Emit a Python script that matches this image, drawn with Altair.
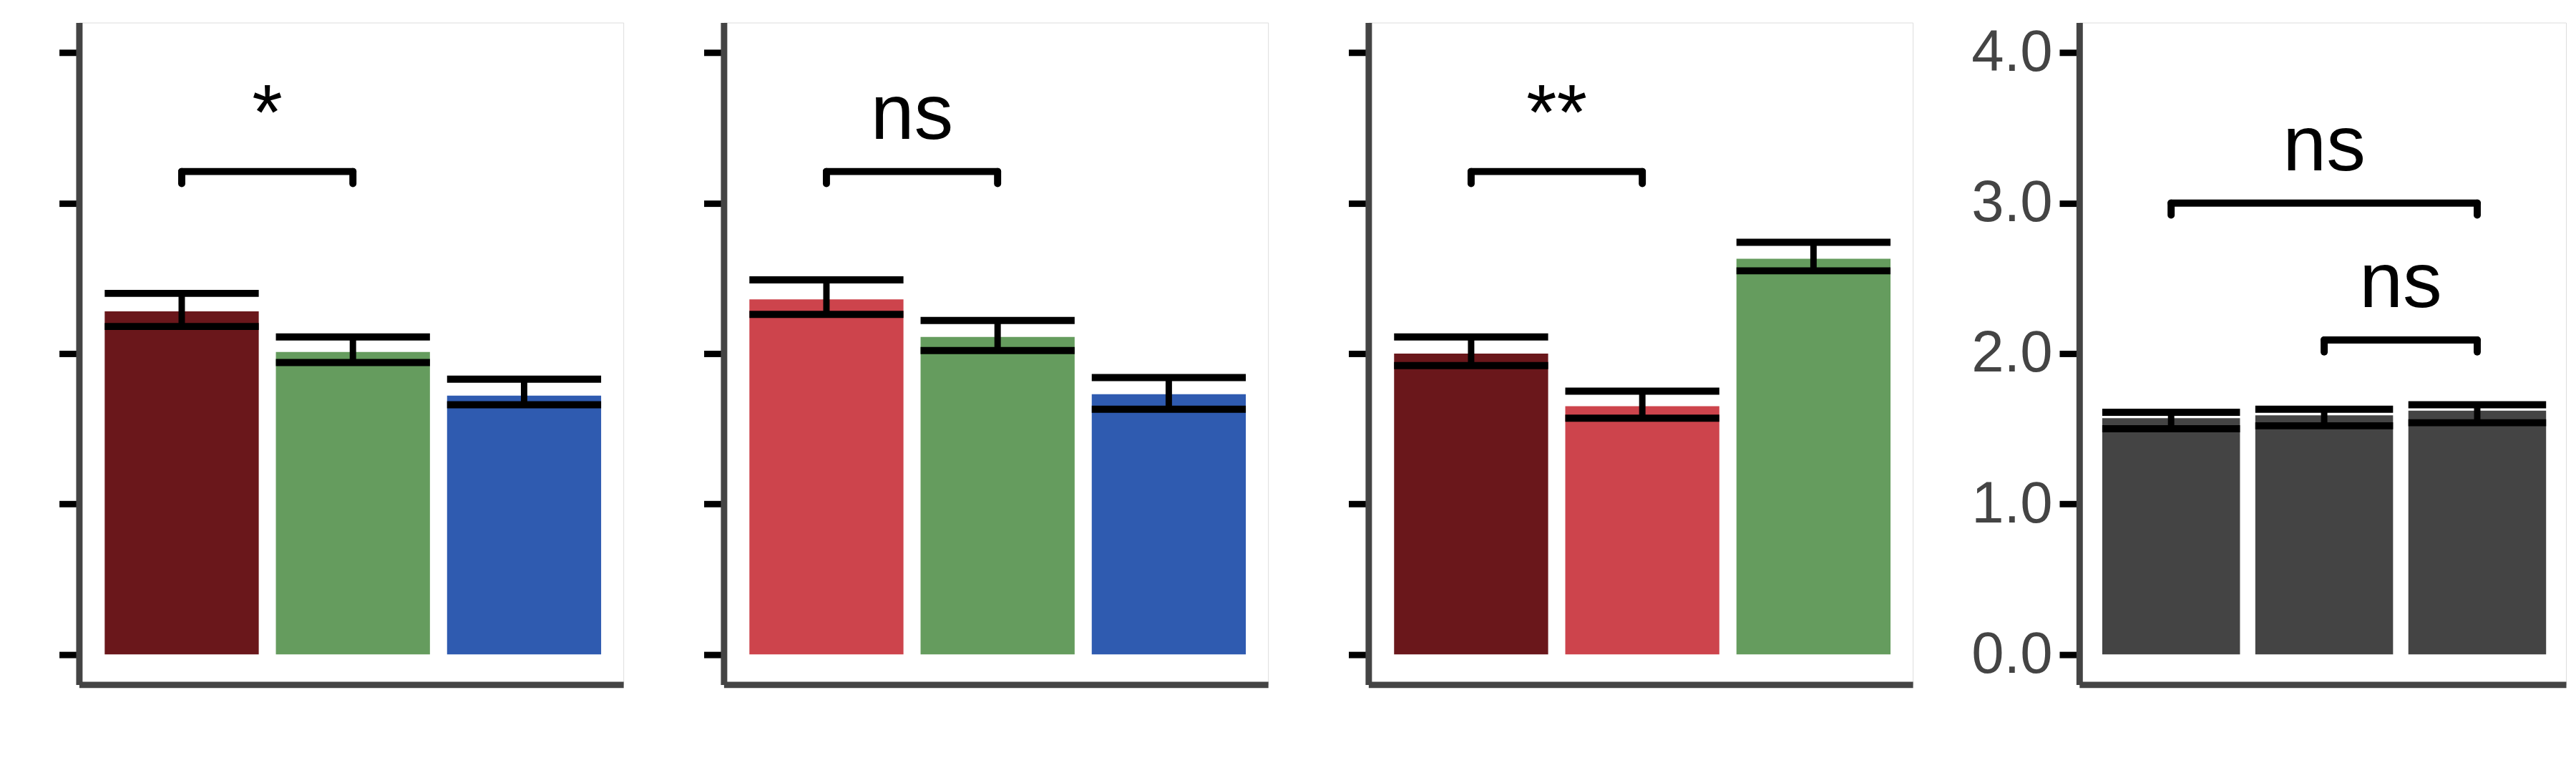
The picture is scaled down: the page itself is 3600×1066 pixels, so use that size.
import altair as alt
import pandas as pd

# 패널별 막대 값 / 오차 범위 (하한, 상한)
panel_means = [[2.28, 2.01, 1.72], [2.36, 2.11, 1.73], [2.00, 1.65, 2.63], [1.57, 1.59, 1.62]]
panel_lo = [[2.18, 1.94, 1.66], [2.26, 2.02, 1.63], [1.92, 1.57, 2.55], [1.50, 1.52, 1.54]]
panel_hi = [[2.40, 2.11, 1.83], [2.49, 2.22, 1.84], [2.11, 1.75, 2.74], [1.61, 1.63, 1.66]]
panel_colors = [["#6a171b", "#659c5e", "#2f5bb0"],
                ["#cd444c", "#659c5e", "#2f5bb0"],
                ["#6a171b", "#cd444c", "#659c5e"],
                ["#444444", "#444444", "#444444"]]
# 유의성 표시: (y, 시작 막대, 끝 막대, 라벨)
panel_sig = [[(3.21, 0, 1, "*")], [(3.21, 0, 1, "ns")], [(3.21, 0, 1, "**")],
             [(3.00, 0, 2, "ns"), (2.09, 1, 2, "ns")]]
y_ticks = [0, 1, 2, 3, 4]

HW = 0.45  # 막대 반폭


def make_panel(i, width, show_labels):
    df = pd.DataFrame({
        "pos": [0, 1, 2],
        "mean": panel_means[i],
        "lo": panel_lo[i],
        "hi": panel_hi[i],
        "color": panel_colors[i],
    })
    df["x1"] = df["pos"] - HW
    df["x2"] = df["pos"] + HW

    xs = alt.Scale(domain=[-0.6, 2.58], nice=False, zero=False)
    ys = alt.Scale(domain=[-0.2, 4.2], nice=False, zero=False)
    xaxis = alt.Axis(ticks=False, labels=False, title=None, grid=False,
                     domainColor="#444444", domainWidth=9)
    yaxis = alt.Axis(values=y_ticks, title=None, grid=False, domainColor="#444444",
                     domainWidth=9, tickColor="black", tickWidth=9, tickSize=28,
                     labels=show_labels, labelFontSize=82, labelColor="#444444",
                     labelFont="Liberation Sans", labelPadding=10)

    bars = alt.Chart(df).mark_bar(color="black").encode(
        x=alt.X("x1:Q", scale=xs, axis=xaxis), x2="x2:Q",
        y=alt.Y("mean:Q", scale=ys, axis=yaxis), y2=alt.datum(0),
        color=alt.Color("color:N", scale=None),
    )
    stem = alt.Chart(df).mark_rule(color="black", strokeWidth=9).encode(
        x="pos:Q", y="lo:Q", y2="hi:Q")
    cap_lo = alt.Chart(df).mark_rule(color="black", strokeWidth=10).encode(
        x="x1:Q", x2="x2:Q", y="lo:Q")
    cap_hi = alt.Chart(df).mark_rule(color="black", strokeWidth=10).encode(
        x="x1:Q", x2="x2:Q", y="hi:Q")

    sig = pd.DataFrame(panel_sig[i], columns=["y", "a", "b", "label"])
    sig["yd"] = sig["y"] - 0.08
    sig["xm"] = (sig["a"] + sig["b"]) / 2
    sig["yt"] = sig["y"] + 0.1
    hbar = alt.Chart(sig).mark_rule(color="black", strokeWidth=10, strokeCap="round").encode(
        x="a:Q", x2="b:Q", y="y:Q")
    lend = alt.Chart(sig).mark_rule(color="black", strokeWidth=10, strokeCap="round").encode(
        x="a:Q", y="yd:Q", y2="y:Q")
    rend = alt.Chart(sig).mark_rule(color="black", strokeWidth=10, strokeCap="round").encode(
        x="b:Q", y="yd:Q", y2="y:Q")
    txt = alt.Chart(sig).mark_text(fontSize=110, baseline="bottom", font="Liberation Sans",
                                   color="black", dy=-2).encode(
        x="xm:Q", y="yt:Q", text="label:N")

    return alt.layer(bars, stem, cap_lo, cap_hi, hbar, lend, rend, txt).properties(
        width=width, height=930)


left = alt.hconcat(make_panel(0, 765, False), make_panel(1, 765, False),
                   make_panel(2, 765, False), spacing=107)
chart = alt.hconcat(left, make_panel(3, 684, True), spacing=80).configure_view(
    stroke=None).configure(padding={"left": 70, "top": 20, "right": 5, "bottom": 5})

chart.save("out.html", embed_options={"renderer": "svg", "actions": False})
